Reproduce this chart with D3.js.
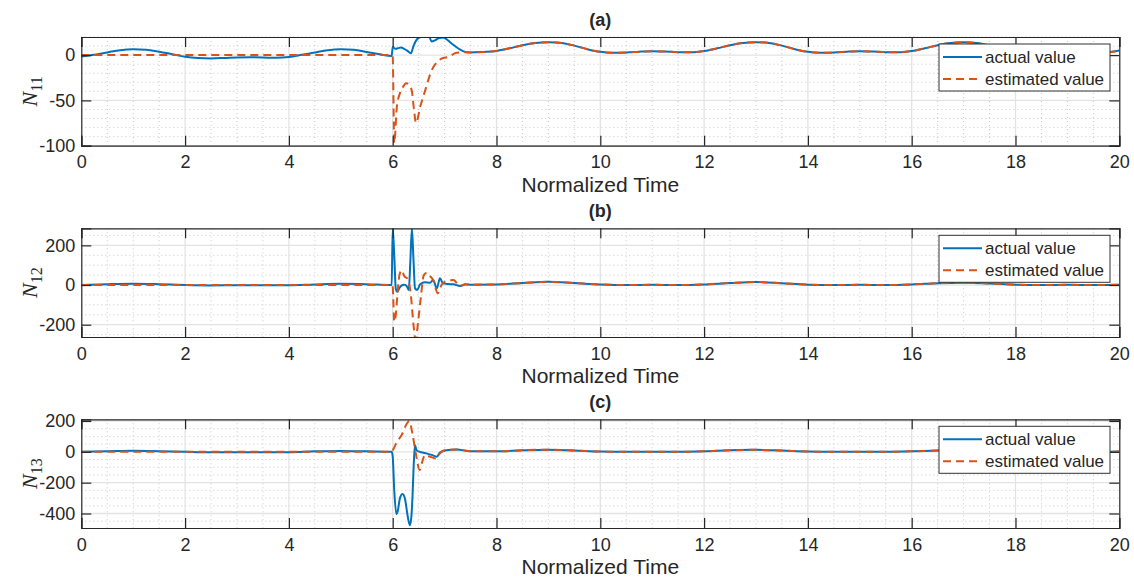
<!DOCTYPE html>
<html>
<head>
<meta charset="utf-8">
<script src="https://cdn.jsdelivr.net/npm/d3@7"></script>
<style>
  body { margin: 0; background: #fff; }
  text { font-family: "Liberation Sans", Arial, sans-serif; fill: #262626; }
</style>
</head>
<body>
<div id="chart"></div>
<script>
// Chart size
const width = 1134;
const height = 581;

// Tick labels and limits for each panel
const xTicks = [0, 2, 4, 6, 8, 10, 12, 14, 16, 18, 20];
const titles = ["(a)", "(b)", "(c)"];
const ySubs = ["11", "12", "13"];
const yTicksA = [-100, -50, 0];
const yTicksB = [-200, 0, 200];
const yTicksC = [-400, -200, 0, 200];
const yDomainA = [-100, 20];
const yDomainB = [-262, 286];
const yDomainC = [-494, 211];
const yMinorStepA = 10;
const yMinorStepB = 50;
const yMinorStepC = 50;

// Panel (a) N11 — actual value
const tActualA = [0, 0.25, 0.5, 0.75, 1, 1.25, 1.5, 1.75, 2, 2.25, 2.5, 2.75, 3, 3.25, 3.5, 3.75, 4, 4.25, 4.5, 4.75, 5, 5.25, 5.5, 5.75, 5.98,
  6.0, 6.05, 6.1, 6.16, 6.22, 6.28, 6.35, 6.4, 6.45, 6.53, 6.62, 6.7, 6.75, 6.82, 6.9, 6.97, 7.05, 7.1, 7.2, 7.3, 7.4, 7.5, 7.75];
const actualA = [-1.5, 0.5, 3, 5.5, 6.5, 5.8, 3.8, 1, -1.8, -3.2, -3.6, -3.2, -2.6, -2.4, -2.6, -3, -2.2, 0.3, 3, 5.5, 6.5, 5.8, 3.5, 1, -1,
  9, 7, 7.5, 8.5, 7, 5, 2, 10, 16, 20, 21, 20.5, 15, 16.5, 19, 19.5, 17, 14.5, 10, 6, 3.5, 2.8, 3.5];
// Panel (a) N11 — estimated value
const tEstA = [0, 5.98, 6.0, 6.03, 6.08, 6.14, 6.2, 6.26, 6.32, 6.37, 6.41, 6.45, 6.53, 6.62, 6.75, 6.85, 6.94, 7.07, 7.23, 7.42, 7.6, 7.75];
const estA = [0, 0, -2, -97, -57, -42, -35, -31, -33, -40, -60, -75, -57, -40, -17, -8, -4, -2, 2.5, 3.3, 3.2, 3.5];
// Panel (a) common tail after convergence (both series)
const tTailA = [8, 8.25, 8.5, 8.75, 9, 9.25, 9.5, 9.75, 10, 10.25, 10.5, 10.75, 11, 11.25, 11.5, 11.75,
  12, 12.25, 12.5, 12.75, 13, 13.25, 13.5, 13.75, 14, 14.25, 14.5, 14.75, 15, 15.25, 15.5, 15.75,
  16, 16.25, 16.5, 16.75, 17, 17.25, 17.5, 17.75, 18, 18.25, 18.5, 18.75, 19, 19.25, 19.5, 19.75, 20];
const tailA = [4.6, 7.5, 11, 13.5, 14.3, 13.5, 10.5, 6.5, 3.6, 2.6, 2.8, 3.8, 4.4, 4, 3.3, 3.2,
  4.6, 7.5, 11, 13.5, 14.3, 13.5, 10.5, 6.5, 3.6, 2.6, 2.8, 3.8, 4.4, 4, 3.3, 3.2,
  4.6, 7.5, 11, 13.5, 14.3, 13.5, 10.5, 6.5, 3.6, 2.6, 2.8, 3.8, 4.4, 4, 3.3, 3.2, 5];

// Panel (b) N12 — actual value
const tActualB = [0, 0.5, 1, 1.5, 2, 2.5, 3, 3.5, 4, 4.5, 5, 5.5, 5.98,
  6.0, 6.03, 6.06, 6.09, 6.13, 6.17, 6.22, 6.25, 6.28, 6.31, 6.34, 6.37, 6.4, 6.43, 6.47, 6.53, 6.62, 6.72, 6.78, 6.85, 6.91, 6.97, 7.07, 7.17, 7.3, 7.4, 7.5];
const actualB = [0, 4, 6.5, 4, 0, -2, -1, -1.5, -1, 3, 6, 4, 0,
  286, 150, -20, -34, -15, -3, 2, 0, -10, -25, 120, 286, 130, -17, -25, 3.5, 13.6, 11.6, 25, -17, 34, 8.5, 5, 3.5, -5, 3.5, 2];
// Panel (b) N12 — estimated value
const tEstB = [0, 5.98, 6.0, 6.03, 6.06, 6.08, 6.13, 6.17, 6.23, 6.28, 6.35, 6.4, 6.44, 6.49, 6.54, 6.6, 6.66, 6.72, 6.78, 6.87, 6.94, 7.03, 7.17, 7.3, 7.4, 7.5];
const estB = [0, 0, -10, -185, -150, -84, 50, 75, 42, 34, -50, -200, -275, -185, -67, 50, 62, 45, 25, -42, 0, 20, 25, -5, 3, 2];
const tTailB = [8, 8.5, 9, 9.5, 10, 10.5, 11, 11.5, 12, 12.5, 13, 13.5, 14, 14.5, 15, 15.5, 16, 16.5, 17, 17.5, 18, 18.5, 19, 19.5, 20];
const tailB = [3, 10, 16, 10, 3, 0, 1, 0, 3, 10, 15, 9, 2, 0, 1, 0, 3, 9, 12, 8, 2, 0, 1, 0, 2];

// Panel (c) N13 — actual value
const tActualC = [0, 0.5, 1, 1.5, 2, 2.5, 3, 3.5, 4, 4.5, 5, 5.5, 5.98,
  6.0, 6.03, 6.07, 6.1, 6.14, 6.19, 6.24, 6.29, 6.33, 6.36, 6.38, 6.41, 6.43, 6.46, 6.55, 6.65, 6.75, 6.85, 6.91, 7.03, 7.23, 7.5];
const actualC = [0, 4, 7, 4, 0, -3, -2, -3, -2, 3, 6, 3, 0,
  -30, -250, -403, -380, -300, -274, -311, -420, -476, -420, -300, -50, 43, 11, -3, -10, -20, -32, -4, 11, 15, 4];
// Panel (c) N13 — estimated value
const tEstC = [0, 5.98, 6.02, 6.08, 6.17, 6.27, 6.32, 6.38, 6.44, 6.52, 6.57, 6.62, 6.72, 6.85, 6.91, 7.03, 7.23, 7.5];
const estC = [0, 0, 22, 64, 107, 182, 200, 118, 0, -118, -64, -21, -32, -43, -10, 11, 15, 4];
const tTailC = [8, 8.5, 9, 9.5, 10, 10.5, 11, 11.5, 12, 12.5, 13, 13.5, 14, 14.5, 15, 15.5, 16, 16.5, 17, 17.5, 18, 18.5, 19, 19.5, 20];
const tailC = [3, 10, 14, 9, 2, 0, 1, 0, 3, 10, 13, 8, 2, 0, 1, 0, 3, 9, 12, 8, 2, 0, 1, 0, 2];

const legendLabels = ["actual value", "estimated value"];
const blue = "#0072BD";
const orange = "#D95319";

// Build point lists per panel
const zip = (ts, vs) => ts.map((t, i) => ({ t: t, v: vs[i] }));
const panels = [
  { actual: zip(tActualA, actualA).concat(zip(tTailA, tailA)), est: zip(tEstA, estA).concat(zip(tTailA, tailA)),
    domain: yDomainA, ticks: yTicksA, minorStep: yMinorStepA },
  { actual: zip(tActualB, actualB).concat(zip(tTailB, tailB)), est: zip(tEstB, estB).concat(zip(tTailB, tailB)),
    domain: yDomainB, ticks: yTicksB, minorStep: yMinorStepB },
  { actual: zip(tActualC, actualC).concat(zip(tTailC, tailC)), est: zip(tEstC, estC).concat(zip(tTailC, tailC)),
    domain: yDomainC, ticks: yTicksC, minorStep: yMinorStepC }
];

// Layout
const left = 81.3, right = 1119.3;
const panelTops = [37, 228.3, 419.3];
const panelH = 108.7;

const svg = d3.select("#chart").append("svg")
  .attr("width", width)
  .attr("height", height);

const x = d3.scaleLinear().domain([0, 20]).range([left, right]);
const xMinor = d3.range(0, 20.001, 0.5);

panels.forEach((p, i) => {
  const top = panelTops[i];
  const bottom = top + panelH;
  const y = d3.scaleLinear().domain(p.domain).range([bottom, top]);
  const g = svg.append("g");

  // Minor grid (dotted)
  const yMinor = d3.range(Math.ceil(p.domain[0] / p.minorStep) * p.minorStep, p.domain[1] + 0.001, p.minorStep)
    .filter(v => !p.ticks.includes(v));
  g.append("g").selectAll("line.xm")
    .data(xMinor.filter(v => v % 2 !== 0))
    .enter().append("line")
      .attr("x1", d => x(d)).attr("x2", d => x(d))
      .attr("y1", top).attr("y2", bottom)
      .attr("stroke", "#c8c8c8").attr("stroke-width", 1)
      .attr("stroke-dasharray", "1,3");
  g.append("g").selectAll("line.ym")
    .data(yMinor)
    .enter().append("line")
      .attr("x1", left).attr("x2", right)
      .attr("y1", d => y(d)).attr("y2", d => y(d))
      .attr("stroke", "#c8c8c8").attr("stroke-width", 1)
      .attr("stroke-dasharray", "1,3");

  // Major grid
  g.append("g").selectAll("line")
    .data(xTicks.slice(1, -1))
    .enter().append("line")
      .attr("x1", d => x(d)).attr("x2", d => x(d))
      .attr("y1", top).attr("y2", bottom)
      .attr("stroke", "#e3e3e3").attr("stroke-width", 1.3);
  g.append("g").selectAll("line")
    .data(p.ticks)
    .enter().append("line")
      .attr("x1", left).attr("x2", right)
      .attr("y1", d => y(d)).attr("y2", d => y(d))
      .attr("stroke", "#e3e3e3").attr("stroke-width", 1.3);

  // Clip and lines
  svg.append("clipPath").attr("id", "clip" + i)
    .append("rect").attr("x", left).attr("y", top).attr("width", right - left).attr("height", panelH);

  const line = d3.line().x(d => x(d.t)).y(d => y(d.v)).curve(d3.curveMonotoneX);
  g.append("path")
    .datum(p.actual)
    .attr("clip-path", `url(#clip${i})`)
    .attr("fill", "none").attr("stroke", blue).attr("stroke-width", 2)
    .attr("d", line);
  g.append("path")
    .datum(p.est)
    .attr("clip-path", `url(#clip${i})`)
    .attr("fill", "none").attr("stroke", orange).attr("stroke-width", 2)
    .attr("stroke-dasharray", "8,5")
    .attr("d", line);

  // Axes, ticks inward on all four sides
  const fmt = d => String(d);
  const ax = g.append("g").attr("transform", `translate(0,${bottom})`)
    .call(d3.axisBottom(x).tickValues(xTicks).tickSize(-10).tickPadding(10).tickFormat(fmt));
  const axTop = g.append("g").attr("transform", `translate(0,${top})`)
    .call(d3.axisTop(x).tickValues(xTicks).tickSize(-10).tickFormat(""));
  const ay = g.append("g").attr("transform", `translate(${left},0)`)
    .call(d3.axisLeft(y).tickValues(p.ticks).tickSize(-10).tickPadding(6).tickFormat(fmt));
  const ayR = g.append("g").attr("transform", `translate(${right},0)`)
    .call(d3.axisRight(y).tickValues(p.ticks).tickSize(-10).tickFormat(""));
  [ax, axTop, ay, ayR].forEach(a => {
    a.select(".domain").attr("stroke", "#262626").attr("stroke-width", 1.2);
    a.selectAll(".tick line").attr("stroke", "#262626").attr("stroke-width", 1.2);
    a.selectAll(".tick text").style("font-size", "18px").attr("fill", "#262626")
      .style("font-family", "'Liberation Sans', Arial, sans-serif");
  });

  // Title
  g.append("text")
    .attr("x", (left + right) / 2).attr("y", top - 11)
    .attr("text-anchor", "middle")
    .style("font-size", "18px").style("font-weight", "bold")
    .text(titles[i]);

  // X label
  g.append("text")
    .attr("x", (left + right) / 2).attr("y", bottom + 46)
    .attr("text-anchor", "middle")
    .style("font-size", "21px")
    .text("Normalized Time");

  // Y label N_xx
  const yl = g.append("text")
    .attr("transform", `translate(37,${(top + bottom) / 2}) rotate(-90)`)
    .attr("text-anchor", "middle")
    .style("font-family", "'Liberation Serif', 'Times New Roman', serif");
  yl.append("tspan").style("font-style", "italic").style("font-size", "22px").text("N");
  yl.append("tspan").attr("dy", 5).style("font-size", "16px").text(ySubs[i]);

  // Legend
  const lg = g.append("g").attr("transform", `translate(939,${top + 7})`);
  lg.append("rect")
    .attr("width", 171).attr("height", 47)
    .attr("fill", "#fff").attr("stroke", "#333").attr("stroke-width", 1);
  legendLabels.forEach((lab, k) => {
    const cy = 13 + k * 22;
    lg.append("line")
      .attr("x1", 4).attr("x2", 43).attr("y1", cy).attr("y2", cy)
      .attr("stroke", k === 0 ? blue : orange).attr("stroke-width", 2)
      .attr("stroke-dasharray", k === 0 ? null : "8,5");
    lg.append("text")
      .attr("x", 46).attr("y", cy).attr("dy", "0.35em")
      .style("font-size", "17px")
      .text(lab);
  });
});
</script>
</body>
</html>
